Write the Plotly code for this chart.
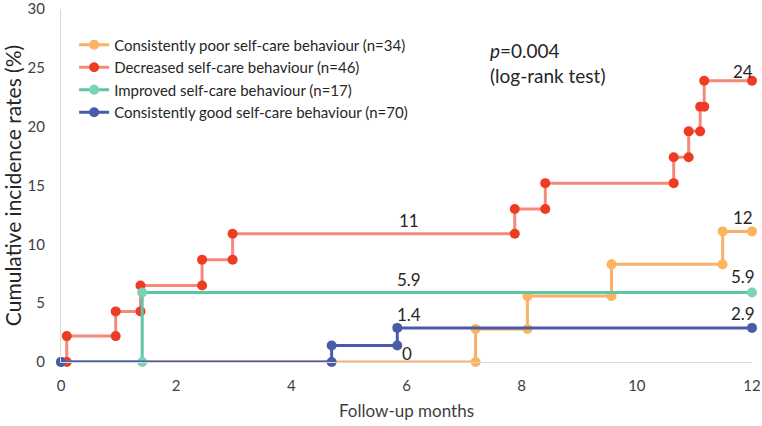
import plotly.graph_objects as go

# Curvas de incidencia acumulada (vertices de la escalera, como en Excel)
meses_pobre = [0, 7.2, 7.2, 8.1, 8.1, 9.56, 9.56, 11.49, 11.49, 12]
tasa_pobre = [0, 0, 2.8, 2.8, 5.6, 5.6, 8.3, 8.3, 11.1, 11.1]

meses_decr = [0, 0.1, 0.1, 0.95, 0.95, 1.38, 1.38, 2.45, 2.45, 2.98, 2.98,
              7.88, 7.88, 8.41, 8.41, 10.64, 10.64, 10.9, 10.9, 11.1, 11.1,
              11.17, 11.17, 12]
tasa_decr = [0, 0, 2.2, 2.2, 4.3, 4.3, 6.5, 6.5, 8.7, 8.7, 10.9,
             10.9, 13.0, 13.0, 15.2, 15.2, 17.4, 17.4, 19.6, 19.6, 21.7,
             21.7, 23.9, 23.9]

meses_mejor = [0, 1.41, 1.41, 12]
tasa_mejor = [0, 0, 5.9, 5.9]

meses_bueno = [0, 4.7, 4.7, 5.84, 5.84, 12]
tasa_bueno = [0, 0, 1.4, 1.4, 2.9, 2.9]

# Etiquetas de valores a los 6 y 12 meses
etiquetas_x = [6.05, 6.05, 6.05, 6.0, 11.85, 11.85, 11.85, 11.85]
etiquetas_y = [12.0, 7.0, 4.0, 0.7, 24.7, 12.3, 7.3, 4.1]
etiquetas_txt = ["11", "5.9", "1.4", "0", "24", "12", "5.9", "2.9"]

series = [
    ("Consistently poor self-care behaviour (n=34)", meses_pobre, tasa_pobre, "#F9B06C", "#FDB45F"),
    ("Decreased self-care behaviour (n=46)", meses_decr, tasa_decr, "#F58A7C", "#EE3B24"),
    ("Improved self-care behaviour (n=17)", meses_mejor, tasa_mejor, "#5DC6A6", "#7BD2B6"),
    ("Consistently good self-care behaviour (n=70)", meses_bueno, tasa_bueno, "#4A5BAA", "#4A5BAA"),
]

FUENTE = "Lato, Open Sans, sans-serif"
GRIS = "#404040"

fig = go.Figure()
for nombre, x, y, color_linea, color_marca in series:
    fig.add_trace(go.Scatter(
        x=x, y=y,
        mode="lines+markers",
        name=nombre,
        line=dict(color=color_linea, width=3),
        marker=dict(size=10, color=color_marca),
        cliponaxis=False,
    ))

for x, y, t in zip(etiquetas_x, etiquetas_y, etiquetas_txt):
    fig.add_annotation(x=x, y=y, text=t, showarrow=False,
                       font=dict(size=17, color="#262626", family=FUENTE))

fig.add_annotation(
    xref="paper", yref="paper", x=0.618, y=0.922, xanchor="left", yanchor="top",
    text="<i>p</i>=0.004<br>(log-rank test)", showarrow=False, align="left",
    font=dict(size=19, color="#262626", family=FUENTE),
)

fig.update_layout(
    width=762, height=426,
    margin=dict(l=61, r=10, t=9, b=64),
    plot_bgcolor="white", paper_bgcolor="white",
    font=dict(family=FUENTE, color=GRIS, size=14),
    showlegend=True,
    legend=dict(x=0.019, y=0.945, xanchor="left", yanchor="top",
                bgcolor="rgba(0,0,0,0)", font=dict(size=15, color="#262626"),
                tracegroupgap=0, itemwidth=30),
    xaxis=dict(range=[0, 12], dtick=2, showgrid=False, zeroline=False,
               showline=True, linecolor="#D9D9D9", linewidth=1,
               ticks="", ticklabelstandoff=10, ticklabeloverflow="allow",
               tickfont=dict(size=15, color=GRIS), automargin=False,
               title=dict(text="Follow-up months", standoff=12,
                          font=dict(size=17, color=GRIS))),
    yaxis=dict(range=[0, 30], dtick=5, showgrid=False, zeroline=False,
               showline=True, linecolor="#D9D9D9", linewidth=1,
               ticks="", ticklabelstandoff=12, ticklabeloverflow="allow",
               tickfont=dict(size=15, color=GRIS), automargin=False,
               title=dict(text="Cumulative incidence rates (%)", standoff=6,
                          font=dict(size=21, color="#262626"))),
)

# sin el margen de 8 px del body para que la figura ocupe la ventana exacta
fig.write_html("out.html", config={"displayModeBar": False},
               post_script="document.body.style.margin='0';")
